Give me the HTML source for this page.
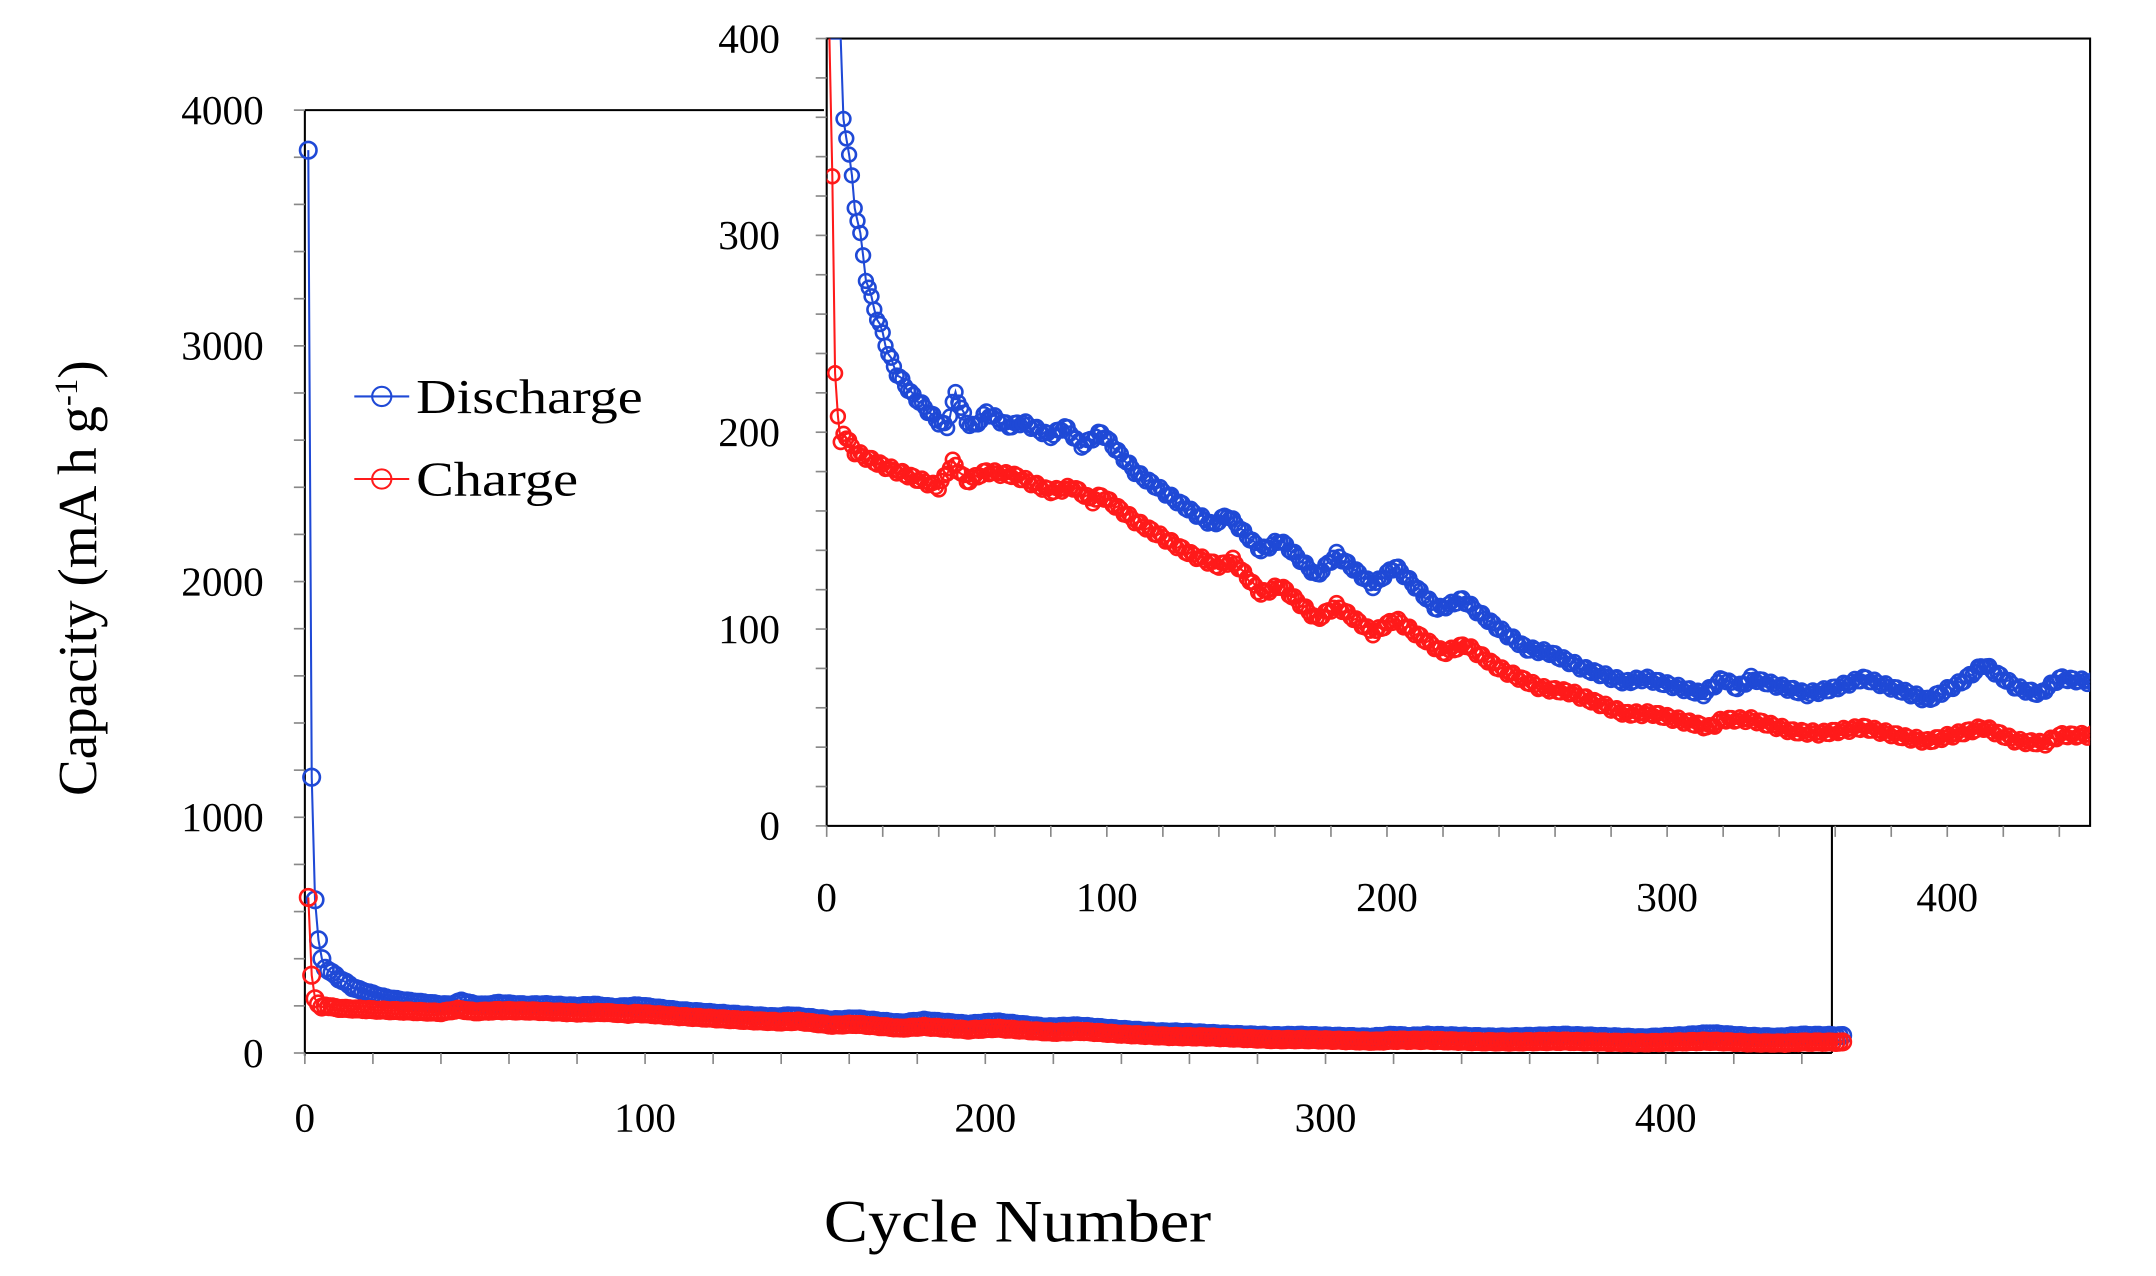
<!DOCTYPE html>
<html><head><meta charset="utf-8"><style>
html,body{margin:0;padding:0;background:#fff;}
svg{display:block}
text{font-family:"Liberation Serif",serif;fill:#000}
</style></head><body>
<svg id="s" width="2156" height="1276" viewBox="0 0 1570 927" preserveAspectRatio="none" xmlns="http://www.w3.org/2000/svg">
<rect width="1570" height="930" fill="#fff"/>
<g id="main"></g>
<g id="inset"></g>
<g id="lab"></g>
</svg>
<script>
const NS="http://www.w3.org/2000/svg";
function el(p,t,a,txt){const e=document.createElementNS(NS,t);for(const k in a)e.setAttribute(k,a[k]);if(txt!==undefined)e.textContent=txt;p.appendChild(e);return e;}
function interp(pts,c){for(let i=0;i<pts.length-1;i++){if(c>=pts[i][0]&&c<=pts[i+1][0]){const t=(c-pts[i][0])/(pts[i+1][0]-pts[i][0]);return pts[i][1]+t*(pts[i+1][1]-pts[i][1]);}}return pts[pts.length-1][1];}
const D=[[1,3830],[2,1170],[3,650],[4,480],[5,400],[6,360],[8,340],[9,330],[10,315],[12,300],[13,290],[14,278],[16,268],[18,258],[20,250],[22,240],[25,230],[30,220],[40,205],[43,203],[46,220],[50,205],[53,203],[57,210],[65,203],[70,205],[80,198],[85,203],[91,193],[98,200],[110,180],[120,170],[130,160],[138,153],[143,158],[155,140],[162,145],[175,127],[182,138],[195,122],[203,132],[218,110],[227,115],[240,100],[250,90],[258,88],[270,80],[285,73],[292,75],[305,70],[313,67],[320,75],[325,70],[330,75],[350,67],[360,70],[370,75],[385,68],[393,64],[405,73],[413,82],[425,70],[433,67],[440,75],[452,73]];
const C=[[1,660],[2,330],[3,230],[4,208],[5,195],[6,200],[10,190],[20,183],[40,172],[45,185],[50,175],[57,180],[67,178],[80,170],[88,172],[95,165],[98,168],[110,155],[130,138],[140,132],[145,135],[155,118],[162,122],[175,105],[182,112],[195,98],[203,105],[220,88],[228,92],[240,80],[255,70],[265,68],[285,57],[295,57],[315,50],[320,54],[330,54],[345,48],[355,47],[370,50],[385,45],[393,43],[413,50],[425,43],[435,42],[440,46],[452,46]];
const N=452;
function series(pts){const a=[];for(let c=1;c<=N;c++){let v=interp(pts,c);if(c>5)v+=Math.sin(c*1.7)*1.2;a.push([c,v]);}return a;}
const dS=series(D), cS=series(C);
const main=document.getElementById('main'), ins=document.getElementById('inset'), lab=document.getElementById('lab');
const mx=c=>222+c*2.4775, my=v=>765-v*0.17125;
el(main,'line',{x1:222,y1:80,x2:600,y2:80,stroke:'#000','stroke-width':1.5});
el(main,'line',{x1:222,y1:80,x2:222,y2:767,stroke:'#000','stroke-width':1.5});
el(main,'line',{x1:222,y1:765,x2:1334,y2:765,stroke:'#000','stroke-width':1.5});
el(main,'line',{x1:1334,y1:600,x2:1334,y2:765,stroke:'#000','stroke-width':1.5});
for(let v=0;v<=4000;v+=200){el(main,'line',{x1:214,y1:my(v),x2:222,y2:my(v),stroke:'#888','stroke-width':1.2});}
for(let c=0;c<=440;c+=20){el(main,'line',{x1:mx(c),y1:765,x2:mx(c),y2:773,stroke:'#888','stroke-width':1.2});}
[0,1000,2000,3000,4000].forEach(v=>el(main,'text',{x:192,y:my(v)+10,'font-size':30,'text-anchor':'end'},v));
[0,100,200,300,400].forEach(c=>el(main,'text',{x:mx(c),y:822,'font-size':30,'text-anchor':'middle'},c));
function draw(g,S,fx,fy,col,r,clipTop){
 let d='';S.forEach(([c,v],i)=>{let y=fy(v);if(y<clipTop)y=clipTop;d+=(i?'L':'M')+fx(c).toFixed(1)+' '+y.toFixed(1);});
 el(g,'path',{d:d,fill:'none',stroke:col,'stroke-width':1.5});
 S.forEach(([c,v])=>{const y=fy(v);if(y<clipTop+2)return;el(g,'circle',{cx:fx(c),cy:y,r:r,fill:'none',stroke:col,'stroke-width':1.9});});
}
draw(main,dS,mx,my,'#1f49d6',6,0);
draw(main,cS,mx,my,'#ff1a1a',6,0);
el(ins,'rect',{x:602,y:28,width:920,height:572,fill:'#fff',stroke:'#000','stroke-width':1.5});
const ix=c=>602+c*2.04, iy=v=>600-v*1.43;
for(let v=0;v<=400;v+=20){el(ins,'line',{x1:594,y1:iy(v),x2:602,y2:iy(v),stroke:'#888','stroke-width':1.2});}
for(let c=0;c<=440;c+=20){el(ins,'line',{x1:ix(c),y1:600,x2:ix(c),y2:608,stroke:'#888','stroke-width':1.2});}
[0,100,200,300,400].forEach(v=>el(ins,'text',{x:568,y:iy(v)+10,'font-size':30,'text-anchor':'end'},v));
[0,100,200,300,400].forEach(c=>el(ins,'text',{x:ix(c),y:662,'font-size':30,'text-anchor':'middle'},c));
const cp=el(ins,'clipPath',{id:'ic'});el(cp,'rect',{x:602,y:28,width:920,height:572});
const ig=el(ins,'g',{'clip-path':'url(#ic)'});
draw(ig,dS,ix,iy,'#1f49d6',5,28);
draw(ig,cS,ix,iy,'#ff1a1a',5,28);
el(lab,'line',{x1:258,y1:288,x2:298,y2:288,stroke:'#1f49d6','stroke-width':1.5});
el(lab,'circle',{cx:278,cy:288,r:7,fill:'none',stroke:'#1f49d6','stroke-width':1.5});
el(lab,'text',{x:303,y:300,'font-size':35,textLength:165,lengthAdjust:'spacingAndGlyphs'},'Discharge');
el(lab,'line',{x1:258,y1:348,x2:298,y2:348,stroke:'#ff1a1a','stroke-width':1.5});
el(lab,'circle',{cx:278,cy:348,r:7,fill:'none',stroke:'#ff1a1a','stroke-width':1.5});
el(lab,'text',{x:303,y:360,'font-size':35,textLength:118,lengthAdjust:'spacingAndGlyphs'},'Charge');
el(lab,'text',{x:600,y:902,'font-size':44,textLength:282,lengthAdjust:'spacingAndGlyphs'},'Cycle Number');
const yt=el(lab,'text',{x:0,y:0,'font-size':40,'text-anchor':'middle',transform:'translate(70,420) rotate(-90)'});
yt.innerHTML='Capacity (mA h g<tspan dy="-14" font-size="24">-1</tspan><tspan dy="14">)</tspan>';
</script>
</body></html>
